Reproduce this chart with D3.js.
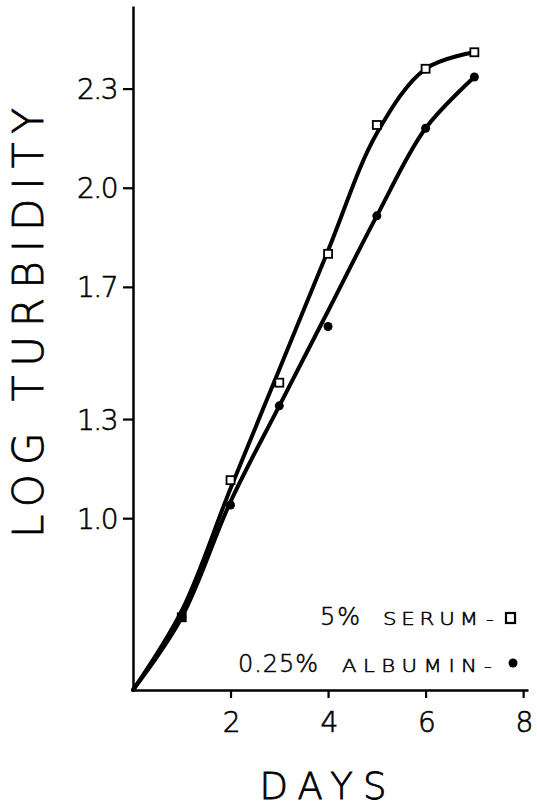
<!DOCTYPE html>
<html>
<head>
<meta charset="utf-8">
<script src="https://cdn.jsdelivr.net/npm/d3@7"></script>
<style>
  body { margin: 0; background: #fff; }
  text { font-family: "DejaVu Sans", sans-serif; fill: #000; }
</style>
</head>
<body>
<div id="chart"></div>
<script>
// values
const days = [0, 1, 2, 3, 4, 5, 6, 7];
// measured points (markers)
const serum = [0.48, 0.70, 1.115, 1.41, 1.80, 2.19, 2.36, 2.41];
const albumin = [0.48, 0.70, 1.04, 1.34, 1.58, 1.915, 2.18, 2.335];
// hand-drawn fitted curves, read at each day
const serumFit = [0.48, 0.72, 1.09, 1.45, 1.81, 2.165, 2.36, 2.41];
const albuminFit = [0.48, 0.70, 1.05, 1.34, 1.627, 1.915, 2.18, 2.335];
const xTicks = [2, 4, 6, 8];
const yTicks = [1.0, 1.3, 1.7, 2.0, 2.3];

const W = 537, H = 808;

const svg = d3.select('#chart')
  .append('svg')
    .attr('width', W)
    .attr('height', H);

const x = d3.scaleLinear().domain([0, 8.1]).range([133, 528]);
const y = d3.scaleLinear().domain([0.48, 2.55]).range([690, 6]);

// axes
const yAxis = svg.append('g')
  .attr('transform', `translate(${x(0)},0)`)
  .call(d3.axisLeft(y).tickValues(yTicks).tickFormat(d3.format('.1f'))
    .tickSize(10).tickSizeOuter(0).tickPadding(6));

const xAxis = svg.append('g')
  .attr('transform', `translate(0,${y(0.48)})`)
  .call(d3.axisBottom(x).tickValues(xTicks).tickFormat(d3.format('d'))
    .tickSize(8).tickSizeOuter(0).tickPadding(14));

svg.selectAll('.domain').attr('stroke', '#000').attr('stroke-width', 2.5);
svg.selectAll('.tick line').attr('stroke', '#000').attr('stroke-width', 2.2);
svg.selectAll('.tick text')
  .attr('font-size', 28)
  .attr('font-weight', 300)
  .attr('letter-spacing', -1.5)
  .attr('stroke', '#000')
  .attr('stroke-width', 0.6)
  .attr('fill', '#000');
yAxis.selectAll('.tick text').attr('dy', '0.36em');

// axis titles
svg.append('text')
  .attr('transform', 'translate(43,323) rotate(-90)')
  .attr('text-anchor', 'middle')
  .attr('font-size', 42)
  .attr('font-weight', 300)
  .attr('stroke', '#000')
  .attr('stroke-width', 0.8)
  .attr('textLength', 430)
  .attr('lengthAdjust', 'spacing')
  .text('LOG TURBIDITY');

svg.append('text')
  .attr('x', 323)
  .attr('y', 799)
  .attr('text-anchor', 'middle')
  .attr('font-size', 37)
  .attr('font-weight', 300)
  .attr('stroke', '#000')
  .attr('stroke-width', 0.8)
  .attr('textLength', 127)
  .attr('lengthAdjust', 'spacing')
  .text('DAYS');

// curves
const line = d3.line()
  .x((d, i) => x(days[i]))
  .y(d => y(d))
  .curve(d3.curveCatmullRom.alpha(0.5));

[serumFit, albuminFit].forEach(s => {
  svg.append('path')
    .attr('d', line(s))
    .attr('fill', 'none')
    .attr('stroke', '#000')
    .attr('stroke-width', 4)
    .attr('stroke-linecap', 'round');
});

// markers (skip day 0, which is the origin of the fitted curves)
svg.selectAll('.sq')
  .data(serum.slice(1))
  .enter().append('rect')
    .attr('class', 'sq')
    .attr('x', (d, i) => x(days[i + 1]) - 4)
    .attr('y', d => y(d) - 4)
    .attr('width', 8)
    .attr('height', 8)
    .attr('fill', '#fff')
    .attr('stroke', '#000')
    .attr('stroke-width', 1.8);

svg.selectAll('.dot')
  .data(albumin.slice(1))
  .enter().append('circle')
    .attr('class', 'dot')
    .attr('cx', (d, i) => x(days[i + 1]))
    .attr('cy', d => y(d))
    .attr('r', 4.5)
    .attr('fill', '#000');

// legend (letters are wide, so stretch them a little)
function legendText(tx, ty, str, size, len, sx) {
  svg.append('text')
    .attr('transform', `translate(${tx},${ty}) scale(${sx},1)`)
    .attr('font-size', size)
    .attr('font-weight', 300)
    .attr('stroke', '#000')
    .attr('stroke-width', 0.5)
    .attr('textLength', len / sx)
    .attr('lengthAdjust', 'spacing')
    .text(str);
}

legendText(320, 625, '5%', 24, 40, 1);
legendText(383, 625, 'SERUM', 17, 95, 1.25);
legendText(486, 625, '-', 17, 9, 1.25);
svg.append('rect')
  .attr('x', 506)
  .attr('y', 613)
  .attr('width', 9)
  .attr('height', 10)
  .attr('fill', '#fff')
  .attr('stroke', '#000')
  .attr('stroke-width', 2.2);

legendText(238, 672, '0.25%', 24, 80, 1);
legendText(342, 672, 'ALBUMIN', 17, 135, 1.25);
legendText(484, 672, '-', 17, 9, 1.25);
svg.append('circle')
  .attr('cx', 513)
  .attr('cy', 663)
  .attr('r', 4.5)
  .attr('fill', '#000');
</script>
</body>
</html>
